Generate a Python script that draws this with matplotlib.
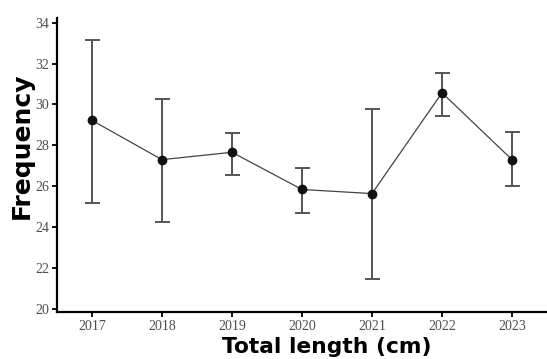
import numpy as np
import matplotlib
matplotlib.use("Agg")
import matplotlib.pyplot as plt

# ===== data
years = [2017, 2018, 2019, 2020, 2021, 2022, 2023]
means = [29.22, 27.30, 27.66, 25.84, 25.64, 30.57, 27.30]
upper = [33.17, 30.29, 28.62, 26.91, 29.80, 31.56, 28.65]
lower = [25.19, 24.26, 26.55, 24.70, 21.46, 29.43, 26.00]

yerr = [np.array(means) - np.array(lower), np.array(upper) - np.array(means)]

fig = plt.figure(figsize=(5.47, 3.59), dpi=100)
ax = fig.add_axes([0.1042, 0.131, 0.8958, 0.819])

ax.errorbar(years, means, yerr=yerr, fmt='none', ecolor='#555555',
            elinewidth=1.4, capsize=5.4, capthick=1.4, zorder=2)
ax.plot(years, means, color='#444444', lw=0.9, zorder=3)
ax.plot(years, means, 'o', color='#111111', ms=6, zorder=4)

ax.set_xlim(2016.5, 2023.5)
ax.set_ylim(19.85, 34.23)
ax.set_xticks(years)
ax.set_yticks(range(20, 35, 2))

for s in ['top', 'right']:
    ax.spines[s].set_visible(False)
for s in ['left', 'bottom']:
    ax.spines[s].set_linewidth(1.6)
    ax.spines[s].set_color('black')

ax.tick_params(axis='both', length=3.5, width=1.3, color='black',
               labelcolor='#4d4d4d', labelsize=10, pad=2)
for lab in ax.get_xticklabels() + ax.get_yticklabels():
    lab.set_family('Liberation Serif')

# axis titles placed by hand (the reference has them off-centre)
fig.text(327 / 547, 1 - 347 / 359, 'Total length (cm)', fontsize=15.7,
         fontweight='bold', family='DejaVu Sans', ha='center', va='center')
fig.text(22 / 547, 1 - 146 / 359, 'Frequency', fontsize=18, rotation=90,
         fontweight='bold', family='DejaVu Sans', ha='center', va='center')

fig.savefig('out.png', dpi=100)
